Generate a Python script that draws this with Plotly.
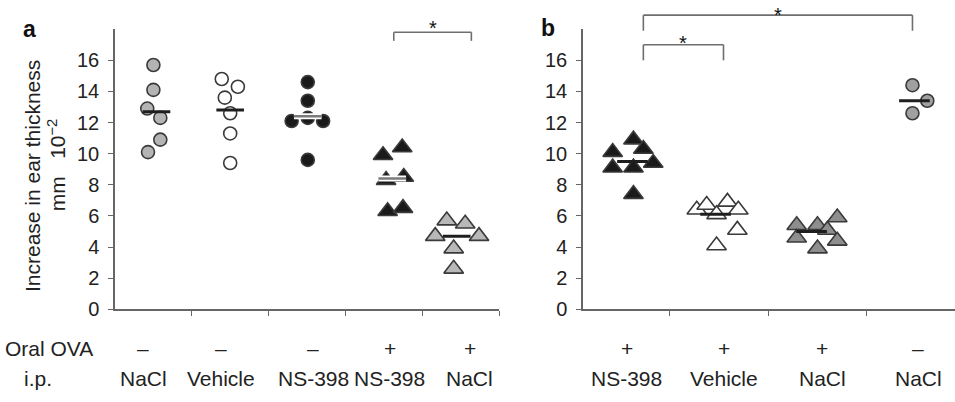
import plotly.graph_objects as go

# ---------------- data ----------------
YMAX = 18
y_ticks = [0, 2, 4, 6, 8, 10, 12, 14, 16]

# Panel a
a_oral = ["–", "–", "–", "+", "+"]
a_ip = ["NaCl", "Vehicle", "NS-398", "NS-398", "NaCl"]
a_vals = [
    [15.7, 14.1, 12.9, 12.3, 10.9, 10.1],
    [14.8, 14.3, 13.6, 12.6, 11.3, 9.4],
    [14.6, 13.4, 12.3, 12.1, 12.1, 9.6],
    [9.9, 10.4, 8.3, 8.5, 6.3, 6.5],
    [5.7, 5.5, 4.7, 4.7, 3.9, 2.6],
]
a_jitter = [
    [0.0, 0.0, -0.08, 0.09, 0.09, -0.07],
    [-0.11, 0.10, -0.07, 0.0, 0.0, 0.0],
    [0.01, 0.01, 0.01, -0.20, 0.21, 0.01],
    [-0.01, 0.24, 0.03, 0.26, 0.05, 0.25],
    [-0.18, 0.06, -0.33, 0.24, -0.09, -0.09],
]
a_means = [12.7, 12.8, 12.4, 8.4, 4.7]
a_mean_dx = [0.04, 0.0, 0.01, 0.11, -0.05]
a_label_dx = [-0.13, -0.12, 0.08, 0.08, 0.12]

# Panel b
b_oral = ["+", "+", "+", "–"]
b_ip = ["NS-398", "Vehicle", "NaCl", "NaCl"]
b_vals = [
    [10.9, 10.1, 10.3, 9.1, 9.1, 9.4, 7.4],
    [6.4, 6.7, 6.1, 6.9, 6.4, 5.1, 4.1],
    [5.4, 5.4, 5.1, 5.9, 4.6, 3.9, 4.4],
    [14.4, 13.4, 12.6],
]
b_jitter = [
    [0.14, -0.07, 0.24, -0.07, 0.14, 0.34, 0.14],
    [-0.22, -0.12, -0.02, 0.09, 0.20, 0.19, -0.02],
    [-0.21, 0.0, 0.10, 0.20, -0.21, 0.0, 0.20],
    [-0.04, 0.11, -0.04],
]
b_means = [9.5, 6.1, 5.0, 13.4]
b_mean_dx = [0.13, -0.03, -0.06, -0.02]
b_label_dx = [0.07, 0.06, 0.05, 0.02]

# ---------------- styles ----------------
FONT = "Arial, Liberation Sans, Helvetica, sans-serif"
TXT = "#222222"
a_styles = [
    dict(symbol="circle", color="#b4b4b4", size=13),
    dict(symbol="circle", color="#ffffff", size=13),
    dict(symbol="circle", color="#1a1a1a", size=13),
    dict(symbol="triangle-up", color="#1a1a1a", size=17),
    dict(symbol="triangle-up", color="#b8b8b8", size=17),
]
a_mean_style = ["dark", "dark", "light", "light", "dark"]
b_styles = [
    dict(symbol="triangle-up", color="#1a1a1a", size=17),
    dict(symbol="triangle-up", color="#ffffff", size=17),
    dict(symbol="triangle-up", color="#8e8e8e", size=17),
    dict(symbol="circle", color="#a0a0a0", size=13),
]
b_mean_style = ["dark", "dark", "dark", "dark"]

fig = go.Figure()


def add_panel(vals, jitter, means, mean_dx, styles, mstyle, xa, ya):
    for i, (v, j) in enumerate(zip(vals, jitter)):
        st = styles[i]
        fig.add_trace(go.Scatter(
            x=[i + d for d in j], y=v, mode="markers", xaxis=xa, yaxis=ya,
            cliponaxis=False, showlegend=False, hoverinfo="skip",
            marker=dict(symbol=st["symbol"], size=st["size"], color=st["color"],
                        line=dict(color="#3a3a3a", width=1.6)),
        ))
    for i, m in enumerate(means):
        c = i + mean_dx[i]
        hw = 0.18 if xa == "x" else 0.155
        if mstyle[i] == "light":
            fig.add_trace(go.Scatter(x=[c - hw, c + hw], y=[m, m], mode="lines",
                                     xaxis=xa, yaxis=ya, showlegend=False, hoverinfo="skip",
                                     line=dict(color="#ffffff", width=6)))
            fig.add_trace(go.Scatter(x=[c - hw, c + hw], y=[m, m], mode="lines",
                                     xaxis=xa, yaxis=ya, showlegend=False, hoverinfo="skip",
                                     line=dict(color="#7a7a7a", width=2.5)))
        else:
            fig.add_trace(go.Scatter(x=[c - hw, c + hw], y=[m, m], mode="lines",
                                     xaxis=xa, yaxis=ya, showlegend=False, hoverinfo="skip",
                                     line=dict(color="#1e1e1e", width=3)))


add_panel(a_vals, a_jitter, a_means, a_mean_dx, a_styles, a_mean_style, "x", "y")
add_panel(b_vals, b_jitter, b_means, b_mean_dx, b_styles, b_mean_style, "x2", "y2")

# ---------------- axes ----------------
ydom = [1 - 318 / 402, 1 - 30 / 402]
yax = dict(range=[0, YMAX], tickvals=y_ticks, ticks="outside", ticklen=5, tickwidth=1.3,
           tickcolor="#666", showline=True, linecolor="#666", linewidth=1.5,
           showgrid=False, zeroline=False, ticklabelstandoff=5,
           tickfont=dict(family=FONT, size=20, color=TXT), domain=ydom)
fig.update_layout(
    width=955, height=402, margin=dict(l=0, r=0, t=0, b=0),
    paper_bgcolor="white", plot_bgcolor="white",
    xaxis=dict(domain=[115 / 955, 499 / 955], range=[-0.5, 4.5],
               tickvals=[0.5, 1.5, 2.5, 3.5, 4.5], ticktext=[""] * 5,
               ticks="outside", ticklen=5, tickwidth=1.3, tickcolor="#666",
               showline=True, linecolor="#666", linewidth=1.5,
               showgrid=False, zeroline=False),
    xaxis2=dict(domain=[583 / 955, 1.0], range=[-0.37, 3.39],
                tickvals=[0.5, 1.5, 2.5], ticktext=[""] * 3,
                ticks="outside", ticklen=5, tickwidth=1.3, tickcolor="#666",
                showline=True, linecolor="#666", linewidth=1.5,
                showgrid=False, zeroline=False, anchor="y2"),
    yaxis=yax,
    yaxis2=dict(yax, anchor="x2"),
)


def note(x, y, text, xref="paper", yref="paper", size=21, **kw):
    fig.add_annotation(x=x, y=y, xref=xref, yref=yref, text=text, showarrow=False,
                       xanchor=kw.pop("xanchor", "center"), yanchor="middle",
                       font=dict(family=FONT, size=size, color=kw.pop("color", TXT)), **kw)


# ---------------- significance brackets ----------------
def bracket(xref, ydref, x0, x1, ytop, ybot, star_y):
    for xs, ys in [([x0, x0], [ybot, ytop]), ([x0, x1], [ytop, ytop]), ([x1, x1], [ytop, ybot])]:
        fig.add_shape(type="line", xref=xref, yref=ydref + " domain",
                      x0=xs[0], x1=xs[1], y0=ys[0] / YMAX, y1=ys[1] / YMAX,
                      line=dict(color="#6e6e6e", width=1.6))
    note((x0 + x1) / 2, star_y / YMAX, "*", xref=xref, yref=ydref + " domain",
         size=20, color="#111")


bracket("x", "y", 3.13, 4.14, 17.8, 17.25, 18.06)
bracket("x2", "y2", 0.24, 2.96, 18.9, 17.9, 18.94)
bracket("x2", "y2", 0.24, 1.05, 17.0, 16.0, 17.1)

# ---------------- text ----------------
row1 = 1 - 358 / 402
row2 = 1 - 389 / 402
for i in range(len(a_ip)):
    note(i + a_label_dx[i], row1, a_oral[i], xref="x")
    note(i + a_label_dx[i], row2, a_ip[i], xref="x")
for i in range(len(b_ip)):
    note(i + b_label_dx[i], row1, b_oral[i], xref="x2")
    note(i + b_label_dx[i], row2, b_ip[i], xref="x2")

note(3 / 955, row1, "Oral OVA", xanchor="left")
note(38 / 955, row2, "i.p.")

note(32 / 955, 1 - 181 / 402, "Increase in ear thickness", textangle=-90)
note(57 / 955, 1 - 170 / 402, "mm   10<sup>−2</sup>", textangle=-90)

note(29 / 955, 1 - 30 / 402, "<b>a</b>", size=23, color="#111")
note(548 / 955, 1 - 29 / 402, "<b>b</b>", size=23, color="#111")

page_fix = (
    "var s=document.createElement('style');"
    "s.textContent='html,body{margin:0!important;padding:0!important;overflow:hidden!important;"
    "height:402px!important;width:955px!important;}';"
    "document.head.appendChild(s);"
)
fig.write_html("out.html", config={"displayModeBar": False, "responsive": False},
               post_script=page_fix)
